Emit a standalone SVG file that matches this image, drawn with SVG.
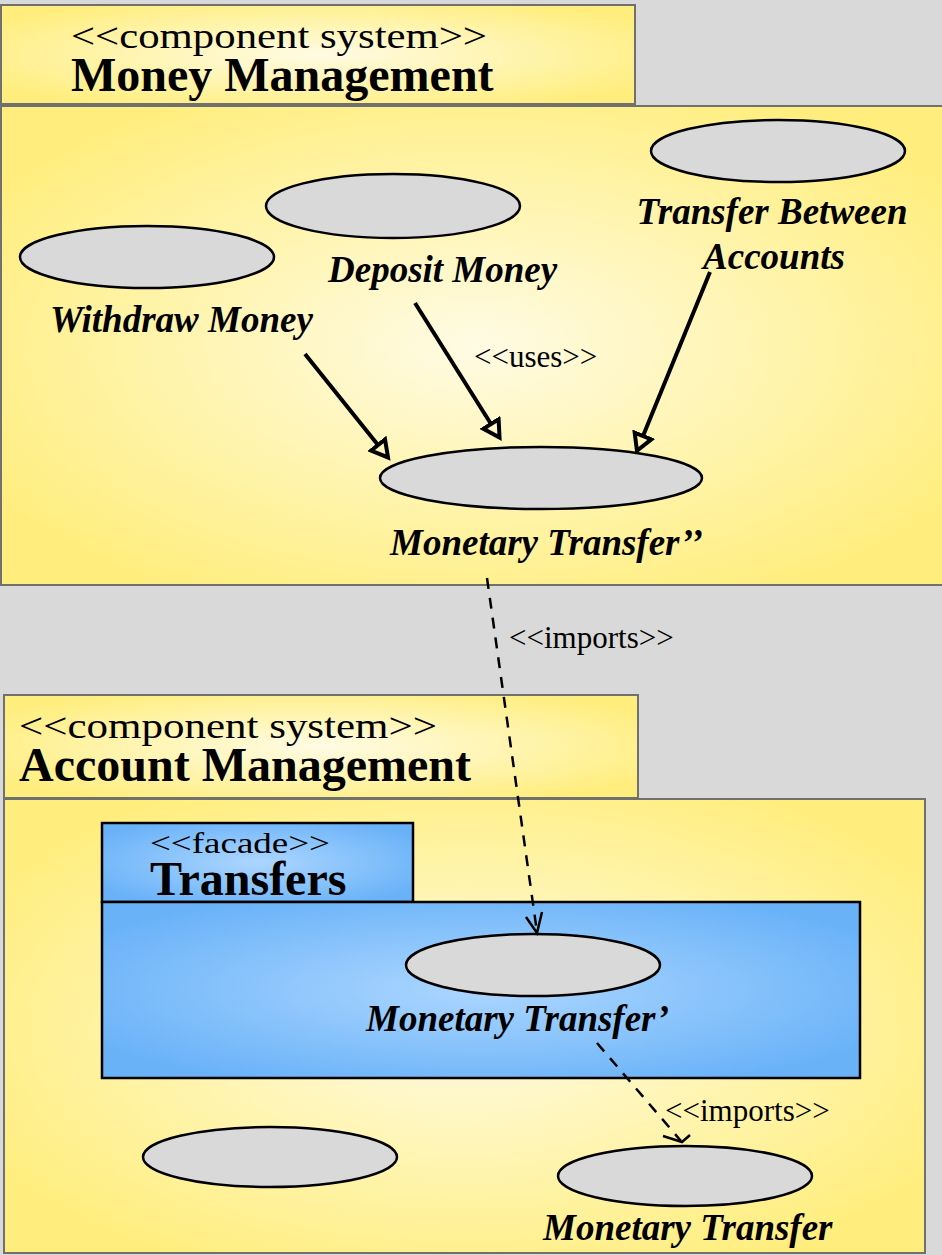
<svg xmlns="http://www.w3.org/2000/svg" width="942" height="1255" viewBox="0 0 942 1255">
<defs>
<radialGradient id="gy" cx="0.5" cy="0.5" r="0.6">
<stop offset="0" stop-color="#fffbe4"/>
<stop offset="1" stop-color="#ffee7e"/>
</radialGradient>
<radialGradient id="gb" cx="0.5" cy="0.5" r="0.6">
<stop offset="0" stop-color="#acd6ff"/>
<stop offset="1" stop-color="#69b2f8"/>
</radialGradient>
<marker id="tri" viewBox="-2 -12 22 24" refX="0" refY="0" markerWidth="22" markerHeight="24" markerUnits="userSpaceOnUse" orient="auto">
<path d="M0,-9 L16,0 L0,9 Z" fill="none" stroke="#000" stroke-width="4" stroke-linejoin="miter"/>
</marker>
</defs>
<style>
.box{fill:url(#gy);stroke:#707070;stroke-width:2}
.fbox{fill:url(#gb);stroke:#000;stroke-width:2.5}
.uc{fill:#d9d9d9;stroke:#000;stroke-width:2.5}
.st{font-family:"Liberation Serif","Times New Roman",serif;font-size:35px;fill:#000}
.nm{font-family:"Liberation Serif","Times New Roman",serif;font-size:48px;font-weight:bold;fill:#000}
.lb{font-family:"Liberation Serif","Times New Roman",serif;font-size:37px;font-weight:bold;font-style:italic;fill:#000}
.cl{font-family:"Liberation Serif","Times New Roman",serif;font-size:31px;fill:#000}
.uses{fill:none;stroke:#000;stroke-width:4;marker-end:url(#tri)}
.imp{fill:none;stroke:#000;stroke-width:2.5;stroke-dasharray:11 9}
.head{fill:none;stroke:#000;stroke-width:2.5}
</style>
<rect x="0" y="0" width="942" height="1255" fill="#d9d9d9"/>

<g id="money-management">
<rect class="box" x="1" y="5" width="634" height="99"/>
<rect class="box" x="1" y="106" width="950" height="479"/>
<text class="st" x="71" y="48" textLength="416" lengthAdjust="spacingAndGlyphs">&lt;&lt;component system&gt;&gt;</text>
<text class="nm" x="71" y="91">Money Management</text>
</g>

<g id="account-management">
<rect class="box" x="4" y="695" width="634" height="103"/>
<rect class="box" x="4" y="799" width="921" height="454"/>
<text class="st" x="19" y="738" textLength="418" lengthAdjust="spacingAndGlyphs">&lt;&lt;component system&gt;&gt;</text>
<text class="nm" x="19" y="781">Account Management</text>
</g>

<g id="transfers">
<rect class="fbox" x="102" y="823" width="311" height="79"/>
<rect class="fbox" x="102" y="902" width="758" height="176"/>
<text class="st" x="150" y="853" style="font-size:30px" textLength="180" lengthAdjust="spacingAndGlyphs">&lt;&lt;facade&gt;&gt;</text>
<text class="nm" x="150" y="895">Transfers</text>
</g>

<g id="withdraw-money">
<ellipse class="uc" cx="147" cy="257" rx="127" ry="31"/>
<text class="lb" x="50" y="332">Withdraw Money</text>
</g>

<g id="deposit-money">
<ellipse class="uc" cx="393" cy="206" rx="127" ry="32"/>
<text class="lb" x="328" y="282">Deposit Money</text>
</g>

<g id="transfer-between-accounts">
<ellipse class="uc" cx="778" cy="151" rx="127" ry="31"/>
<text class="lb" x="772" y="224" text-anchor="middle">Transfer Between</text>
<text class="lb" x="774" y="269" text-anchor="middle">Accounts</text>
</g>

<g id="monetary-transfer-2">
<ellipse class="uc" cx="541" cy="478" rx="161" ry="31"/>
<text class="lb" x="390" y="555">Monetary Transfer’’</text>
</g>

<g id="monetary-transfer-1">
<ellipse class="uc" cx="533" cy="965" rx="127" ry="31"/>
<text class="lb" x="366" y="1031">Monetary Transfer’</text>
</g>

<g id="unnamed-use-case">
<ellipse class="uc" cx="270" cy="1157" rx="127" ry="30"/>
</g>

<g id="monetary-transfer">
<ellipse class="uc" cx="685" cy="1176" rx="127" ry="30"/>
<text class="lb" x="543" y="1240">Monetary Transfer</text>
</g>

<g id="connectors">
<line class="uses" x1="305" y1="354" x2="378" y2="445"/>
<line class="uses" x1="415" y1="303" x2="491" y2="424"/>
<line class="uses" x1="710" y1="272" x2="643" y2="436"/>
<text class="cl" x="474" y="367">&lt;&lt;uses&gt;&gt;</text>
<line class="imp" x1="487" y1="578" x2="537" y2="932"/>
<polyline class="head" points="526,917 537,933 542,912"/>
<text class="cl" x="509" y="648">&lt;&lt;imports&gt;&gt;</text>
<line class="imp" x1="597" y1="1043" x2="681" y2="1141"/>
<polyline class="head" points="663,1136 682,1142 690,1135"/>
<text class="cl" x="665" y="1121">&lt;&lt;imports&gt;&gt;</text>
</g>
</svg>
